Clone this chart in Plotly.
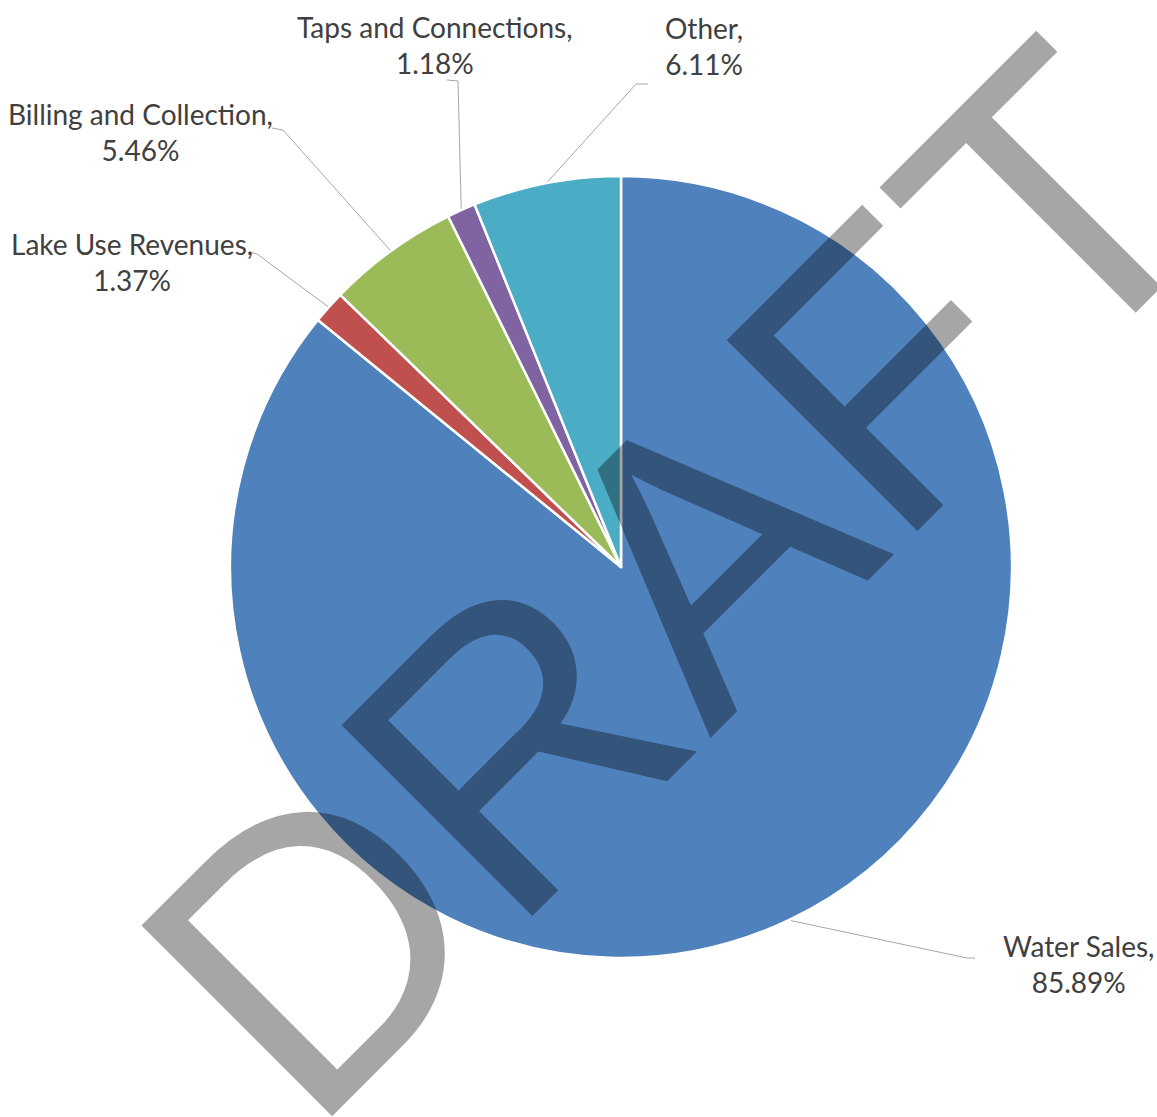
import math
import plotly.graph_objects as go

# Revenue share by source (percent)
categories = ["Water Sales", "Lake Use Revenues", "Billing and Collection",
              "Taps and Connections", "Other"]
shares = [85.89, 1.37, 5.46, 1.18, 6.11]
colors = ["#4F81BD", "#C0504D", "#9BBB59", "#8064A2", "#4BACC6"]

W, H = 1157, 1117
CX, CY, R = 621, 567, 391          # pie centre and radius in pixels

# label placement: (label centre x, first-line y, elbow start, elbow end)
label_layout = {
    "Water Sales": (1078, 946, (975, 958), (967, 958)),
    "Lake Use Revenues": (132, 244, (250, 252), (257, 254)),
    "Billing and Collection": (140, 114, (272, 128), (283, 130)),
    "Taps and Connections": (435, 27, (447, 80), (458, 81)),
    "Other": (704, 28, (648, 84), (636, 84)),
}

fig = go.Figure()

# leader lines from each label to the outer edge of its slice, at mid-angle
total = sum(shares)
cum = 0.0
for name, v in zip(categories, shares):
    mid = (cum + v / 2) / total
    cum += v
    ang = math.radians(90 - 360 * mid)      # clockwise from 12 o'clock
    ex, ey = CX + R * math.cos(ang), CY - R * math.sin(ang)
    _, _, p0, p1 = label_layout[name]
    fig.add_trace(go.Scatter(
        x=[p0[0], p1[0], ex], y=[p0[1], p1[1], ey], mode="lines",
        line=dict(color="#A6A6A6", width=1), hoverinfo="skip", showlegend=False))

fig.add_trace(go.Pie(
    labels=categories, values=shares, sort=False, direction="clockwise",
    rotation=0, textinfo="none", hoverinfo="label+percent",
    marker=dict(colors=colors, line=dict(color="white", width=2.5)),
    domain=dict(x=[(CX - R) / W, (CX + R) / W],
                y=[1 - (CY + R) / H, 1 - (CY - R) / H]),
    showlegend=False))

annotations = []
for name, v in zip(categories, shares):
    lx, ly, _, _ = label_layout[name]
    annotations.append(dict(
        x=lx, y=ly + 18, xref="x", yref="y", showarrow=False,
        text=f"{name},<br>{v:.2f}%", align="center", yanchor="middle",
        font=dict(family="Lato", size=28, color="#404040")))

# watermark
annotations.append(dict(
    x=675, y=581, xref="x", yref="y", showarrow=False, text="DRAFT",
    textangle=-45, font=dict(family="Liberation Sans", size=392,
                             color="rgba(0,0,0,0.35)")))

fig.update_layout(
    width=W, height=H, margin=dict(l=0, r=0, t=0, b=0),
    paper_bgcolor="white", plot_bgcolor="white",
    xaxis=dict(range=[0, W], visible=False, fixedrange=True),
    yaxis=dict(range=[H, 0], visible=False, fixedrange=True),
    annotations=annotations)

fig.write_html("out.html")
